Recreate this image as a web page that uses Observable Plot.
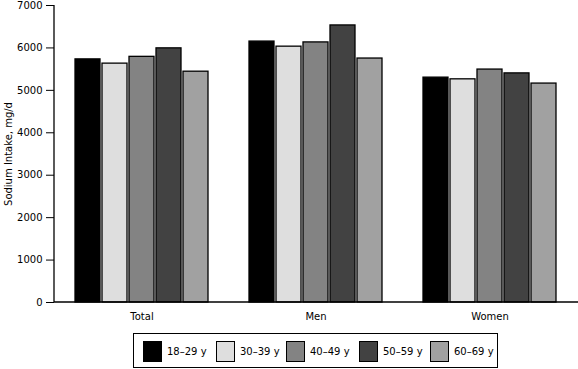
<!DOCTYPE html>
<html>
<head>
<meta charset="utf-8">
<script src="https://cdn.jsdelivr.net/npm/d3@7"></script>
<script src="https://cdn.jsdelivr.net/npm/@observablehq/plot@0.6"></script>
<style>
  html, body { margin: 0; padding: 0; background: #fff; }
  body { width: 578px; height: 369px; overflow: hidden; font-family: "DejaVu Sans", Verdana, sans-serif; }
  #legend {
    position: absolute; left: 133px; top: 333px; width: 363px; height: 33px;
    border: 1.3px solid #000; box-sizing: content-box;
    font-size: 10px; color: #000;
  }
  .item { position: absolute; top: 7px; height: 20px; display: flex; align-items: center; }
  .sw { width: 17px; height: 19px; border: 1px solid #000; margin-right: 5px; }
</style>
</head>
<body>
<div id="chart"></div>
<div id="legend"></div>
<script>
const groups = ["Total", "Men", "Women"];
const ages = ["18–29 y", "30–39 y", "40–49 y", "50–59 y", "60–69 y"];
const totalValues = [5730, 5630, 5790, 5990, 5440];
const menValues = [6150, 6030, 6130, 6530, 5750];
const womenValues = [5300, 5260, 5490, 5400, 5160];
const colors = ["#000000", "#dedede", "#838383", "#424242", "#a1a1a1"];
const yTicks = [0, 1000, 2000, 3000, 4000, 5000, 6000, 7000];

const seriesByGroup = [totalValues, menValues, womenValues];
const data = [];
groups.forEach((g, gi) => ages.forEach((a, ai) => data.push({group: g, age: a, value: seriesByGroup[gi][ai]})));

const MARGIN_LEFT = 54;
function makePlot(dx) {
  return Plot.plot({
    width: 578,
    height: 330,
    marginLeft: MARGIN_LEFT,
    marginRight: 0,
    marginTop: 5,
    marginBottom: 28,
    style: {fontFamily: "DejaVu Sans, Verdana, sans-serif", fontSize: "10px", color: "#000", background: "#fff"},
    fx: {domain: groups, paddingInner: 0.21, paddingOuter: 0.105, label: null, axis: "bottom", tickSize: 0, tickPadding: 10},
    x: {domain: ages, axis: null, paddingInner: 0.08, paddingOuter: 0},
    y: {domain: [0, 7000]},
    color: {domain: ages, range: colors},
    marks: [
      Plot.axisY(yTicks, {tickSize: 8, tickPadding: 4, tickFormat: d => String(d), dx,
        label: "Sodium Intake, mg/d", labelAnchor: "center", labelArrow: "none", labelOffset: 50 - dx}),
      Plot.barY(data, {fx: "group", x: "age", y: "value", fill: "age", stroke: "#000", strokeWidth: 1.3})
    ]
  });
}
// first pass: find where the first facet starts, then shift the y axis to the frame's left edge
const probe = makePlot(0);
const shift = MARGIN_LEFT - probe.scale("fx").apply(groups[0]);
const plot = makePlot(shift);
document.getElementById("chart").appendChild(plot);

// axis lines, positioned with the plot's own scales
const ys = plot.scale("y");
const svg = d3.select(plot);
const y0 = ys.apply(0), yTop = ys.apply(7000);
svg.append("line").attr("x1", MARGIN_LEFT).attr("x2", 578).attr("y1", y0).attr("y2", y0)
  .attr("stroke", "#000").attr("stroke-width", 1.3);
svg.append("line").attr("x1", MARGIN_LEFT).attr("x2", MARGIN_LEFT).attr("y1", yTop).attr("y2", y0)
  .attr("stroke", "#000").attr("stroke-width", 1.3);

// legend
const lg = document.getElementById("legend");
const lefts = [9, 82, 152, 225, 296];
ages.forEach((a, i) => {
  const it = document.createElement("div");
  it.className = "item";
  it.style.left = lefts[i] + "px";
  const sw = document.createElement("div");
  sw.className = "sw";
  sw.style.background = colors[i];
  const t = document.createElement("span");
  t.textContent = a;
  it.appendChild(sw); it.appendChild(t);
  lg.appendChild(it);
});
</script>
</body>
</html>
